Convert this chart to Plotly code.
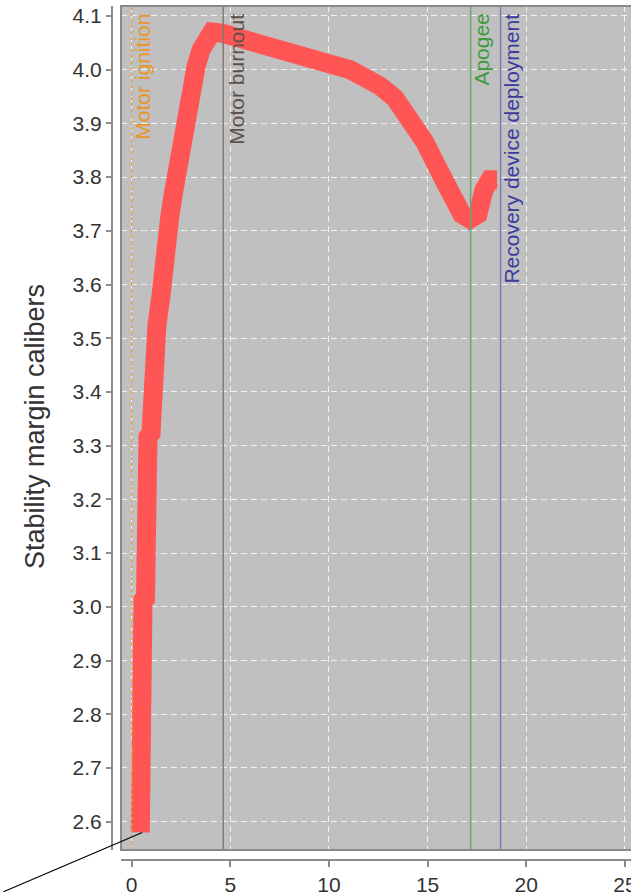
import plotly.graph_objects as go

# ---- data ----
time_s = [0.436, 0.436, 0.573, 0.573, 0.699, 0.699, 0.801, 0.826, 0.978, 1.029,
          1.181, 1.282, 1.485, 1.586, 1.738, 1.941, 2.144, 2.296, 2.448, 2.651,
          2.853, 3.056, 3.259, 3.512, 3.766, 4.070, 4.576, 5.134, 5.996, 6.858,
          8.530, 10.203, 11.065, 11.926, 12.585, 13.345, 14.105, 14.865, 15.625,
          16.234, 16.740, 17.147, 17.552, 17.856, 18.160, 18.520]
stability_cal = [2.580, 2.793, 2.796, 3.012, 3.016, 3.264, 3.269, 3.316, 3.323, 3.404,
                 3.413, 3.525, 3.580, 3.636, 3.683, 3.729, 3.776, 3.813, 3.850, 3.897,
                 3.934, 3.972, 4.005, 4.037, 4.063, 4.070, 4.068, 4.063, 4.052, 4.042,
                 4.024, 4.009, 4.000, 3.986, 3.970, 3.947, 3.910, 3.865, 3.809,
                 3.763, 3.731, 3.722, 3.731, 3.776, 3.795, 3.795]

event_names = ["Motor ignition", "Motor burnout", "Apogee", "Recovery device deployment"]
event_times = [0.0, 4.64, 17.18, 18.70]
event_line_colors = ["#e8a450", "#857a72", "#6aa56a", "#7a7ab8"]
event_text_colors = ["#e8962a", "#5e524a", "#3f9a3f", "#3a3aa0"]
event_dashes = ["dot", "solid", "solid", "solid"]
event_label_shift = [10, 13, 10, 10]

y_ticks = [2.6, 2.7, 2.8, 2.9, 3.0, 3.1, 3.2, 3.3, 3.4, 3.5, 3.6, 3.7, 3.8, 3.9, 4.0, 4.1]
x_ticks = [0, 5, 10, 15, 20, 25]

y_title = "Stability margin calibers"

# ---- figure ----
W, H = 631, 895
ML, MR, MT, MB = 112, 0, 6, 35
PW, PH = W - ML - MR, H - MT - MB
FONT = "Liberation Sans, Arial, sans-serif"

fig = go.Figure()
fig.add_trace(go.Scatter(
    x=time_s, y=stability_cal, mode="lines",
    line=dict(color="#ff5555", width=19),
    showlegend=False, hoverinfo="skip"))

for name, t, lc, tc, dsh, sh in zip(event_names, event_times, event_line_colors,
                                    event_text_colors, event_dashes, event_label_shift):
    fig.add_shape(type="line", xref="x", yref="y domain", x0=t, x1=t, y0=0, y1=1,
                  line=dict(color=lc, width=1.5, dash=dsh), layer="above")
    fig.add_annotation(x=t, xref="x", y=1, yref="y domain", text=name,
                       textangle=-90, showarrow=False, xanchor="center", yanchor="top",
                       xshift=sh, yshift=-6,
                       font=dict(family=FONT, size=21, color=tc))

# plot-area border (left, top, bottom)
fig.add_shape(type="rect", xref="x domain", yref="y domain", x0=0, x1=1.02, y0=0, y1=1,
              line=dict(color="#8a8a8a", width=2), layer="above")

# pointer line to first point
fig.add_annotation(x=time_s[0], y=stability_cal[0], text="", showarrow=True,
                   arrowhead=0, arrowwidth=1.2, arrowcolor="black",
                   ax=-145, ay=60, xshift=2, standoff=0)

# y title
fig.add_annotation(xref="paper", yref="paper", x=(35 - ML) / PW, y=(H - MB - 427) / PH,
                   text=y_title, textangle=-90, showarrow=False,
                   xanchor="center", yanchor="middle",
                   font=dict(family=FONT, size=27, color="#333333"))

axis_common = dict(showline=True, linecolor="#8c8c8c", linewidth=2,
                   ticks="outside", tickcolor="#8c8c8c", tickwidth=2,
                   showgrid=True, gridcolor="#f2f2f2", gridwidth=1, griddash="6px,4px",
                   zeroline=False, automargin=False, ticklabeloverflow="allow",
                   tickfont=dict(family=FONT, size=21, color="#333333"))

fig.update_layout(
    width=W, height=H,
    margin=dict(l=ML, r=MR, t=MT, b=MB, pad=0, autoexpand=False),
    paper_bgcolor="white", plot_bgcolor="#c0c0c0",
    xaxis=dict(domain=[9 / PW, 1], anchor="free", position=0,
               range=[-0.542, 25.31], tickvals=x_ticks, ticklen=6, **axis_common),
    yaxis=dict(domain=[10 / PH, 1], anchor="free", position=0,
               range=[2.5473, 4.1186], tickvals=y_ticks, tickformat=".1f",
               ticklen=5, **axis_common),
)

fig.write_html("out.html", config={"displayModeBar": False},
               post_script="document.body.style.margin='0';document.body.style.overflow='hidden';")
